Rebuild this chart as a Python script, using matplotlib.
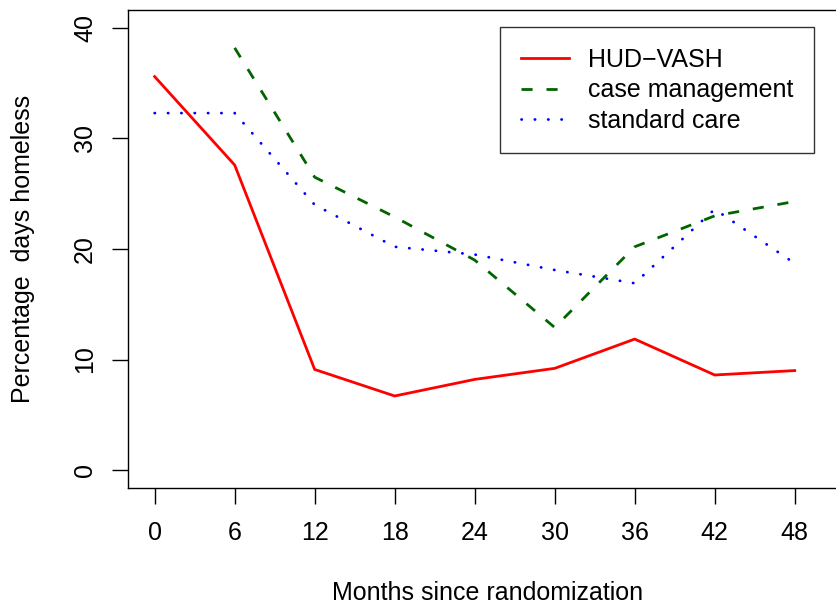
import matplotlib
matplotlib.use("Agg")
import matplotlib.pyplot as plt

months = [0, 6, 12, 18, 24, 30, 36, 42, 48]
hud_vash = [35.6, 27.6, 9.1, 6.7, 8.2, 9.2, 11.85, 8.6, 9.0]
case_mgmt_months = [6, 12, 18, 24, 30, 36, 42, 48]
case_mgmt = [38.2, 26.5, 22.9, 19.0, 12.9, 20.2, 23.0, 24.3]
standard_care = [32.3, 32.3, 24.0, 20.2, 19.5, 18.1, 16.9, 23.6, 18.7]

plt.rcParams['font.family'] = ['Liberation Sans', 'DejaVu Sans']

fig = plt.figure(figsize=(8.36, 6.06), dpi=100)
ax = fig.add_axes([0.1531, 0.1952, 0.8613, 0.7878])

ax.plot(months, hud_vash, color='#FF0000', lw=2, label='HUD\u2212VASH')
ax.plot(case_mgmt_months, case_mgmt, color='#006400', lw=2,
        linestyle=(0, (4, 5)), dash_capstyle='butt', label='case management')
ax.plot(months, standard_care, color='#0000FF', lw=2,
        linestyle=(0, (0.1, 4.7)), dash_capstyle='round', label='standard care')

ax.set_xlim(-2, 52)
ax.set_ylim(-1.6, 41.6)
ax.set_xticks(months)
ax.set_yticks([0, 10, 20, 30, 40])
ax.tick_params(labelsize=18, length=11.2, width=1)
ax.tick_params(axis='x', pad=12.5)
ax.tick_params(axis='y', pad=11)
for lab in ax.get_yticklabels():
    lab.set_rotation(90)
    lab.set_va('center')

for s in ax.spines.values():
    s.set_linewidth(1)

fig.text(0.5828, 1 - 600 / 606, 'Months since randomization', fontsize=18,
         ha='center', va='baseline')
fig.text(23.5 / 836, 1 - 249 / 606, 'Percentage  days homeless', fontsize=18,
         ha='center', va='center', rotation=90)

leg = ax.legend(loc='upper left', bbox_to_anchor=(0.517, 0.964),
                borderaxespad=0, fontsize=18, frameon=True, fancybox=False,
                handlelength=1.92, handletextpad=0.76, labelspacing=0.25,
                borderpad=0.83)
leg.get_frame().set_edgecolor('black')
leg.get_frame().set_linewidth(1)

fig.savefig('out.png', dpi=100)
